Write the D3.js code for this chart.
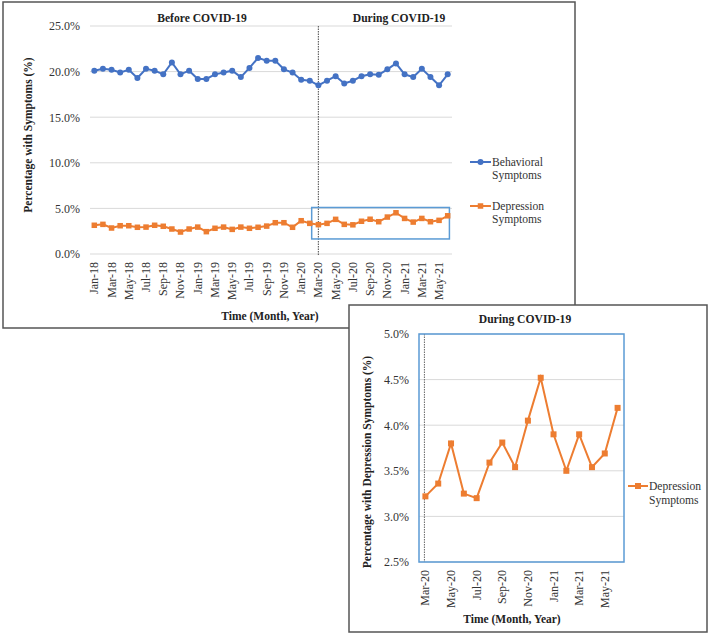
<!DOCTYPE html>
<html><head><meta charset="utf-8">
<script src="https://cdn.jsdelivr.net/npm/d3@7"></script>
<style>html,body{margin:0;padding:0;background:#fff;}svg{display:block;}
svg text{font-family:"Liberation Serif","Times New Roman","DejaVu Serif",serif !important;}</style>
</head><body>
<script>
const months = ["Jan-18","Feb-18","Mar-18","Apr-18","May-18","Jun-18","Jul-18","Aug-18","Sep-18","Oct-18","Nov-18","Dec-18",
"Jan-19","Feb-19","Mar-19","Apr-19","May-19","Jun-19","Jul-19","Aug-19","Sep-19","Oct-19","Nov-19","Dec-19",
"Jan-20","Feb-20","Mar-20","Apr-20","May-20","Jun-20","Jul-20","Aug-20","Sep-20","Oct-20","Nov-20","Dec-20",
"Jan-21","Feb-21","Mar-21","Apr-21","May-21","Jun-21"];
const behavioral = [20.1,20.3,20.2,19.9,20.2,19.3,20.3,20.1,19.7,21.0,19.7,20.1,19.2,19.2,19.7,19.9,20.1,19.4,20.4,21.5,21.2,21.2,20.25,19.9,19.1,19.0,18.5,19.0,19.5,18.7,19.0,19.5,19.7,19.65,20.25,20.9,19.7,19.4,20.3,19.4,18.5,19.7];
const depression = [3.15,3.25,2.85,3.1,3.1,2.93,2.95,3.15,3.04,2.74,2.41,2.74,2.95,2.45,2.82,2.95,2.7,2.95,2.82,2.93,3.06,3.43,3.43,2.93,3.65,3.36,
3.22,3.36,3.80,3.25,3.20,3.59,3.81,3.54,4.05,4.52,3.90,3.50,3.90,3.54,3.69,4.19];
const mainTicks = [0,5,10,15,20,25];
const insetTicks = [2.5,3.0,3.5,4.0,4.5,5.0];
const covidStart = "Mar-20";
const seriesNames = ["Behavioral Symptoms","Depression Symptoms"];

const FONT = "Liberation Serif, Times New Roman, DejaVu Serif, serif";
const BLUE = "#4472C4", ORANGE = "#ED7D31", FRAME_BLUE = "#5B9BD5", GRID = "#d9d9d9", TXT = "#333";

const svg = d3.select("body").append("svg").attr("width",709).attr("height",634)
  .style("font-family",FONT);

// ---------- MAIN CHART ----------
const main = svg.append("g");
main.append("rect").attr("x",3).attr("y",2).attr("width",572).attr("height",326)
  .attr("fill","#fff").attr("stroke","#555").attr("stroke-width",1.5);

const x = d3.scaleBand().domain(months).range([90,452]);
const xc = d => x(d) + x.bandwidth()/2;
const y = d3.scaleLinear().domain([0,25]).range([254,26]);

main.append("g").selectAll("line").data(mainTicks).join("line")
  .attr("x1",90).attr("x2",452).attr("y1",d=>y(d)).attr("y2",d=>y(d))
  .attr("stroke",GRID).attr("stroke-width",1);

const yAxis = d3.axisLeft(y).tickValues(mainTicks).tickFormat(d=>d.toFixed(1)+"%").tickSize(0).tickPadding(10);
main.append("g").attr("transform","translate(90,0)").call(yAxis)
  .call(g=>g.select(".domain").remove())
  .selectAll("text").attr("font-size",12).attr("fill",TXT);

const xAxis = d3.axisBottom(x).tickValues(months.filter((d,i)=>i%2===0)).tickSize(0).tickPadding(0);
main.append("g").attr("transform","translate(0,254)").call(xAxis)
  .call(g=>g.select(".domain").remove())
  .selectAll("text").attr("font-size",12).attr("fill",TXT)
  .attr("transform","rotate(-90)").attr("text-anchor","end").attr("x",-8).attr("y",0).attr("dy","0.33em");

main.append("line").attr("x1",xc(covidStart)).attr("x2",xc(covidStart)).attr("y1",y(25)).attr("y2",y(0)+2)
  .attr("stroke","#666").attr("stroke-width",1.2).attr("stroke-dasharray","1.5,1");

const iStart = months.indexOf(covidStart);
main.append("rect").attr("x",xc(covidStart)-0.78*x.bandwidth()).attr("y",y(5.1))
  .attr("width",xc(months[months.length-1])+0.2*x.bandwidth()-(xc(covidStart)-0.78*x.bandwidth()))
  .attr("height",y(1.65)-y(5.1))
  .attr("fill","none").attr("stroke",FRAME_BLUE).attr("stroke-width",1.5);

const lineB = d3.line().x((d,i)=>xc(months[i])).y(d=>y(d));
main.append("path").datum(behavioral).attr("d",lineB).attr("fill","none").attr("stroke",BLUE).attr("stroke-width",2);
main.append("g").selectAll("circle").data(behavioral).join("circle")
  .attr("cx",(d,i)=>xc(months[i])).attr("cy",d=>y(d)).attr("r",3).attr("fill",BLUE);
main.append("path").datum(depression).attr("d",lineB).attr("fill","none").attr("stroke",ORANGE).attr("stroke-width",2);
main.append("g").selectAll("rect").data(depression).join("rect")
  .attr("x",(d,i)=>xc(months[i])-2.75).attr("y",d=>y(d)-2.75).attr("width",5.5).attr("height",5.5).attr("fill",ORANGE);

main.append("text").attr("x",202).attr("y",22).attr("text-anchor","middle").attr("font-weight","bold")
  .attr("font-size",11.6).attr("fill","#222").text("Before COVID-19");
main.append("text").attr("x",399).attr("y",22).attr("text-anchor","middle").attr("font-weight","bold")
  .attr("font-size",11.6).attr("fill","#222").text("During COVID-19");

main.append("text").attr("transform","translate(32,135) rotate(-90)").attr("text-anchor","middle")
  .attr("font-weight","bold").attr("font-size",11.5).attr("fill","#222").text("Percentage with Symptoms (%)");
main.append("text").attr("x",270).attr("y",320).attr("text-anchor","middle")
  .attr("font-weight","bold").attr("font-size",11.5).attr("fill","#222").text("Time (Month, Year)");

const leg = [{name:seriesNames[0],c:BLUE,shape:"circle",y:162},{name:seriesNames[1],c:ORANGE,shape:"square",y:206}];
leg.forEach(l=>{
  main.append("line").attr("x1",470).attr("x2",491).attr("y1",l.y).attr("y2",l.y).attr("stroke",l.c).attr("stroke-width",2);
  if(l.shape==="circle") main.append("circle").attr("cx",480.5).attr("cy",l.y).attr("r",3).attr("fill",l.c);
  else main.append("rect").attr("x",477.75).attr("y",l.y-2.75).attr("width",5.5).attr("height",5.5).attr("fill",l.c);
  const parts = l.name.split(" ");
  const t = main.append("text").attr("x",492).attr("y",l.y+3.8).attr("font-size",11.6).attr("fill",TXT);
  t.append("tspan").attr("x",492).text(parts[0]);
  t.append("tspan").attr("x",492).attr("dy",13.5).text(parts[1]);
});

// ---------- INSET CHART ----------
const ins = svg.append("g");
ins.append("rect").attr("x",349).attr("y",305).attr("width",358).attr("height",327)
  .attr("fill","#fff").attr("stroke","#555").attr("stroke-width",1.5);

const monthsI = months.slice(iStart);
const depI = depression.slice(iStart);
const x2 = d3.scaleBand().domain(monthsI).range([419,624]);
const xc2 = d => x2(d) + x2.bandwidth()/2;
const y2 = d3.scaleLinear().domain([2.5,5.0]).range([562,334]);

ins.append("g").selectAll("line").data(insetTicks).join("line")
  .attr("x1",419).attr("x2",624).attr("y1",d=>y2(d)).attr("y2",d=>y2(d))
  .attr("stroke",GRID).attr("stroke-width",1);

ins.append("g").attr("transform","translate(419,0)")
  .call(d3.axisLeft(y2).tickValues(insetTicks).tickFormat(d=>d.toFixed(1)+"%").tickSize(0).tickPadding(10))
  .call(g=>g.select(".domain").remove())
  .selectAll("text").attr("font-size",12).attr("fill",TXT);

ins.append("g").attr("transform","translate(0,562)")
  .call(d3.axisBottom(x2).tickValues(monthsI.filter((d,i)=>i%2===0)).tickSize(0).tickPadding(0))
  .call(g=>g.select(".domain").remove())
  .selectAll("text").attr("font-size",12).attr("fill",TXT)
  .attr("transform","rotate(-90)").attr("text-anchor","end").attr("x",-8).attr("y",0).attr("dy","0.33em");

ins.append("line").attr("x1",xc2(covidStart)-1).attr("x2",xc2(covidStart)-1).attr("y1",334).attr("y2",562)
  .attr("stroke","#666").attr("stroke-width",1).attr("stroke-dasharray","1.5,1");

ins.append("rect").attr("x",419).attr("y",334).attr("width",205).attr("height",228)
  .attr("fill","none").attr("stroke",FRAME_BLUE).attr("stroke-width",1.5);

const line2 = d3.line().x((d,i)=>xc2(monthsI[i])).y(d=>y2(d));
ins.append("path").datum(depI).attr("d",line2).attr("fill","none").attr("stroke",ORANGE).attr("stroke-width",2);
ins.append("g").selectAll("rect").data(depI).join("rect")
  .attr("x",(d,i)=>xc2(monthsI[i])-3).attr("y",d=>y2(d)-3).attr("width",6).attr("height",6).attr("fill",ORANGE);

ins.append("text").attr("x",525).attr("y",323).attr("text-anchor","middle").attr("font-weight","bold")
  .attr("font-size",11.6).attr("fill","#222").text("During COVID-19");
ins.append("text").attr("transform","translate(371,462) rotate(-90)").attr("text-anchor","middle")
  .attr("font-weight","bold").attr("font-size",11.5).attr("fill","#222").text("Percentage with Depression Symptoms (%)");
ins.append("text").attr("x",512).attr("y",623).attr("text-anchor","middle")
  .attr("font-weight","bold").attr("font-size",11.5).attr("fill","#222").text("Time (Month, Year)");

ins.append("line").attr("x1",628).attr("x2",648).attr("y1",486).attr("y2",486).attr("stroke",ORANGE).attr("stroke-width",2);
ins.append("rect").attr("x",635).attr("y",483).attr("width",6).attr("height",6).attr("fill",ORANGE);
const lt = ins.append("text").attr("x",649).attr("y",490).attr("font-size",11.6).attr("fill",TXT);
lt.append("tspan").attr("x",649).text("Depression");
lt.append("tspan").attr("x",649).attr("dy",13.5).text("Symptoms");

svg.selectAll("text").style("font-family",FONT);
</script>
</body></html>
